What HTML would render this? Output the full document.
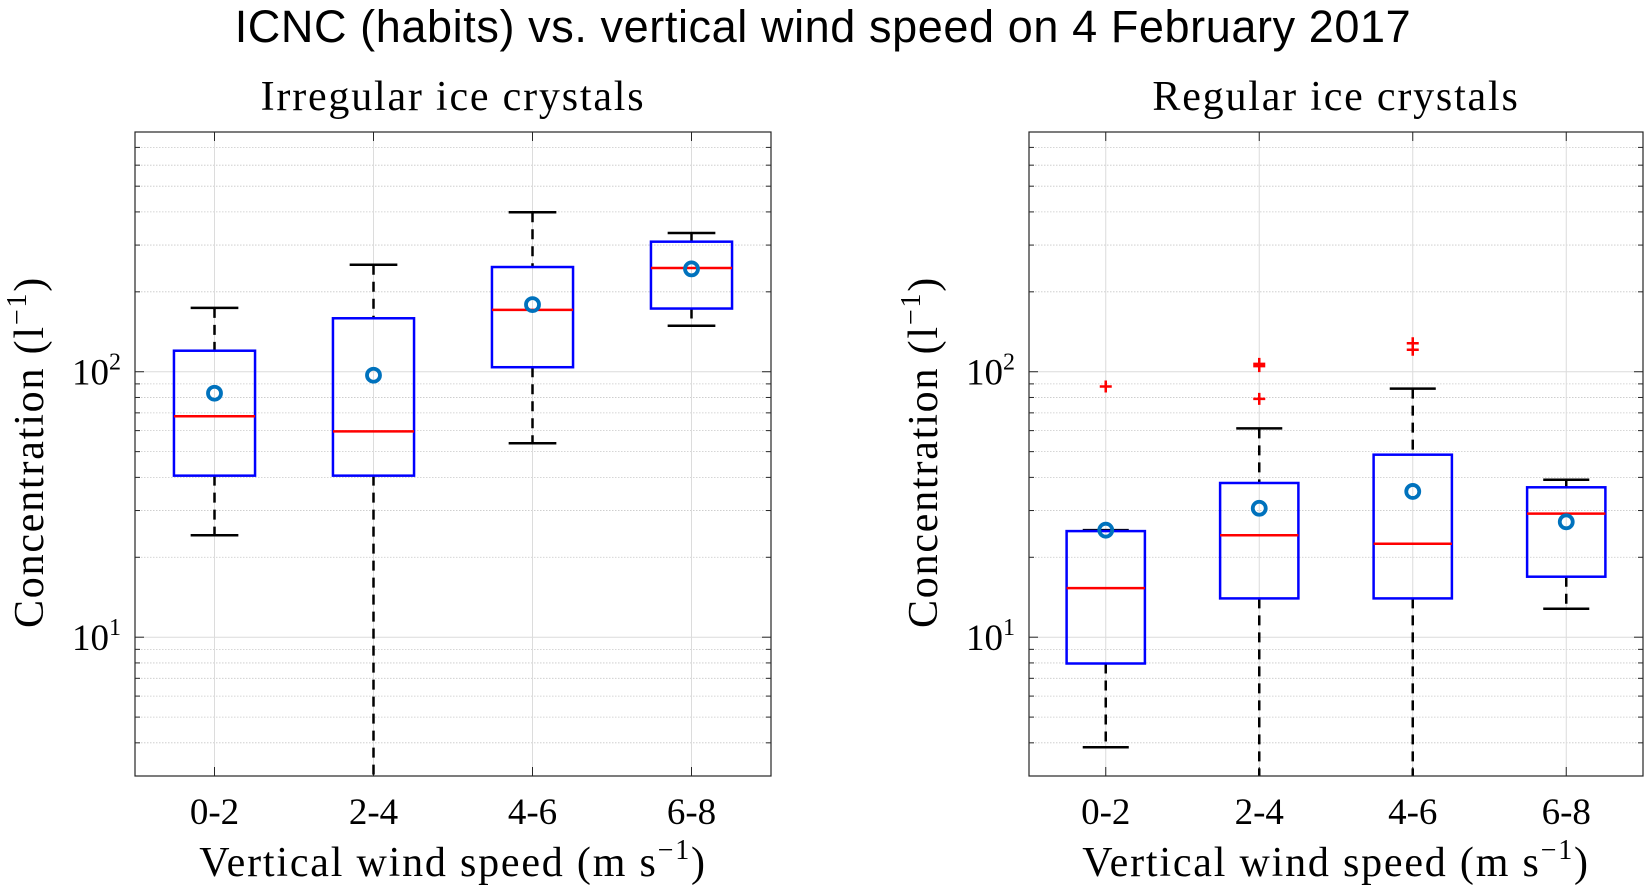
<!DOCTYPE html>
<html><head><meta charset="utf-8"><style>
html,body{margin:0;padding:0;background:#fff;}
svg{display:block;}
</style></head><body>
<svg id="fig" width="1651" height="895" viewBox="0 0 1651 895" xmlns="http://www.w3.org/2000/svg">
<text x="823" y="42" text-anchor="middle" font-family="Liberation Sans, sans-serif" font-size="45" letter-spacing="0.6" fill="#000">ICNC (habits) vs. vertical wind speed on 4 February 2017</text>
</svg>
<script>
const categories = ["0-2","2-4","4-6","6-8"];
// Irregular ice crystals
const irrUpper = [174, 253, 399, 333];
const irrQ3 = [120, 159, 248, 309];
const irrMedian = [68, 59.6, 171, 246];
const irrQ1 = [40.6, 40.6, 104, 173];
const irrLower = [24.2, 1, 53.8, 149];
const irrMean = [83, 97, 179, 244];
const irrOutliers = [[], [], [], []];
// Regular ice crystals
const regUpper = [25.3, 61.2, 86.4, 39.2];
const regQ3 = [25.1, 38.1, 48.7, 36.7];
const regMedian = [15.3, 24.2, 22.5, 29.2];
const regQ1 = [7.96, 14.0, 14.0, 16.9];
const regLower = [3.85, 1, 1, 12.8];
const regMean = [25.3, 30.6, 35.4, 27.2];
const regOutliers = [[88], [107, 105, 79], [128, 121], []];
const yTickValues = [10, 100];
const yTickLabels = ["1", "2"];
const yMin = 3, yMax = 800;

const NS = "http://www.w3.org/2000/svg";
const svg = document.getElementById('fig');
function el(tag, attrs, parent) {
  const e = document.createElementNS(NS, tag);
  for (const k in attrs) e.setAttribute(k, attrs[k]);
  (parent || svg).appendChild(e);
  return e;
}

function panel(cfg) {
  const {x0, x1, y0, y1, title, upper, q3, med, q1, lower, mean, outliers, name} = cfg;
  const g = el('g', {});
  
  
  const clipId = name + '-clip';
  const cp = el('clipPath', {id: clipId}, g);
  el('rect', {x: x0, y: y0, width: x1 - x0, height: y1 - y0}, cp);
  const xs = i => x0 + (i + 1 - 0.5) / 4 * (x1 - x0);
  const ux = (x1 - x0) / 4;
  const ys = v => y1 - (Math.log10(v) - Math.log10(yMin)) / (Math.log10(yMax) - Math.log10(yMin)) * (y1 - y0);
  for (let d = 0; d <= 2; d++) {
    for (let m = 1; m <= 9; m++) {
      const v = m * Math.pow(10, d);
      if (v < yMin || v > yMax) continue;
      const y = ys(v);
      if (m === 1) {
        const gl = el('line', {x1: x0, x2: x1, y1: y, y2: y, stroke: '#dcdcdc', 'stroke-width': 1}, g);
        
        
        el('line', {x1: x0, x2: x0 + 9, y1: y, y2: y, stroke: '#262626', 'stroke-width': 1}, g);
        el('line', {x1: x1 - 9, x2: x1, y1: y, y2: y, stroke: '#262626', 'stroke-width': 1}, g);
      } else {
        const gl = el('line', {x1: x0, x2: x1, y1: y, y2: y, stroke: '#c8c8c8', 'stroke-width': 0.8, 'stroke-dasharray': '1.5,1.5'}, g);
        
        
        el('line', {x1: x0, x2: x0 + 5, y1: y, y2: y, stroke: '#262626', 'stroke-width': 1}, g);
        el('line', {x1: x1 - 5, x2: x1, y1: y, y2: y, stroke: '#262626', 'stroke-width': 1}, g);
      }
    }
  }
  categories.forEach((c, i) => {
    const x = xs(i);
    const gl = el('line', {x1: x, x2: x, y1: y0, y2: y1, stroke: '#dcdcdc', 'stroke-width': 1}, g);
    
    
    el('line', {x1: x, x2: x, y1: y1, y2: y1 - 9, stroke: '#262626'}, g);
    el('line', {x1: x, x2: x, y1: y0, y2: y0 + 9, stroke: '#262626'}, g);
    const t = el('text', {x: x, y: y1 + 48, 'text-anchor': 'middle', 'font-family': 'Liberation Serif, serif', 'font-size': 37}, g);
    t.textContent = c;
    
    
  });
  const bg = el('g', {'clip-path': 'url(#' + clipId + ')'}, g);
  categories.forEach((c, i) => {
    const x = xs(i);
    const hw = 0.255 * ux, cw = 0.15 * ux;
    const box = el('g', {}, bg);
    
    
    el('line', {x1: x, x2: x, y1: ys(upper[i]), y2: ys(q3[i]), stroke: '#000', 'stroke-width': 2.5, 'stroke-dasharray': '10,7'}, box);
    el('line', {x1: x, x2: x, y1: ys(q1[i]), y2: ys(lower[i]), stroke: '#000', 'stroke-width': 2.5, 'stroke-dasharray': '10,7'}, box);
    el('line', {x1: x - cw, x2: x + cw, y1: ys(upper[i]), y2: ys(upper[i]), stroke: '#000', 'stroke-width': 2.5}, box);
    el('line', {x1: x - cw, x2: x + cw, y1: ys(lower[i]), y2: ys(lower[i]), stroke: '#000', 'stroke-width': 2.5}, box);
    el('rect', {x: x - hw, y: ys(q3[i]), width: 2 * hw, height: ys(q1[i]) - ys(q3[i]), fill: 'none', stroke: '#0000ff', 'stroke-width': 2.5}, box);
    el('line', {x1: x - hw, x2: x + hw, y1: ys(med[i]), y2: ys(med[i]), stroke: '#ff0000', 'stroke-width': 2.5}, box);
    outliers[i].forEach(v => {
      const y = ys(v);
      const o = el('path', {d: `M${x - 6},${y}H${x + 6}M${x},${y - 6}V${y + 6}`, stroke: '#ff0000', 'stroke-width': 2.5}, box);
      
      
    });
    const m = el('circle', {cx: x, cy: ys(mean[i]), r: 6.5, fill: 'none', stroke: '#0072bd', 'stroke-width': 3.8}, box);
    
    
  });
  const fr = el('rect', {x: x0, y: y0, width: x1 - x0, height: y1 - y0, fill: 'none', stroke: '#262626', 'stroke-width': 1.2}, g);
  
  
  yTickValues.forEach((v, k) => {
    const t = el('text', {x: x0 - 14, y: ys(v) + 13, 'text-anchor': 'end', 'font-family': 'Liberation Serif, serif', 'font-size': 37}, g);
    
    
    t.textContent = '10';
    const s = el('tspan', {dy: -15, 'font-size': 24}, t);
    s.textContent = yTickLabels[k];
  });
  const tt = el('text', {x: (x0 + x1) / 2, y: y0 - 22, 'text-anchor': 'middle', 'font-family': 'Liberation Serif, serif', 'font-size': 42, 'letter-spacing': 1.8}, g);
  tt.textContent = title;
  
  
  const xl = el('text', {x: (x0 + x1) / 2, y: y1 + 100, 'text-anchor': 'middle', 'font-family': 'Liberation Serif, serif', 'font-size': 42, 'letter-spacing': 1.8}, g);
  
  
  xl.textContent = 'Vertical wind speed (m s';
  const xs1 = el('tspan', {dy: -17, 'font-size': 28}, xl); xs1.textContent = '−1';
  const xs2 = el('tspan', {dy: 17}, xl); xs2.textContent = ')';
  const ycx = x0 - 92, ycy = (y0 + y1) / 2 - 2;
  const yl = el('text', {x: ycx, y: ycy, 'text-anchor': 'middle', 'font-family': 'Liberation Serif, serif', 'font-size': 42, 'letter-spacing': 1.8, transform: `rotate(-90 ${ycx} ${ycy})`}, g);
  
  
  yl.textContent = 'Concentration (l';
  const ys1 = el('tspan', {dy: -17, 'font-size': 28}, yl); ys1.textContent = '−1';
  const ys2 = el('tspan', {dy: 17}, yl); ys2.textContent = ')';
}

panel({x0: 135, x1: 771, y0: 132, y1: 776, title: 'Irregular ice crystals', upper: irrUpper, q3: irrQ3, med: irrMedian, q1: irrQ1, lower: irrLower, mean: irrMean, outliers: irrOutliers, name: 'irregular'});
panel({x0: 1029, x1: 1643, y0: 132, y1: 776, title: 'Regular ice crystals', upper: regUpper, q3: regQ3, med: regMedian, q1: regQ1, lower: regLower, mean: regMean, outliers: regOutliers, name: 'regular'});
</script>
</body></html>
